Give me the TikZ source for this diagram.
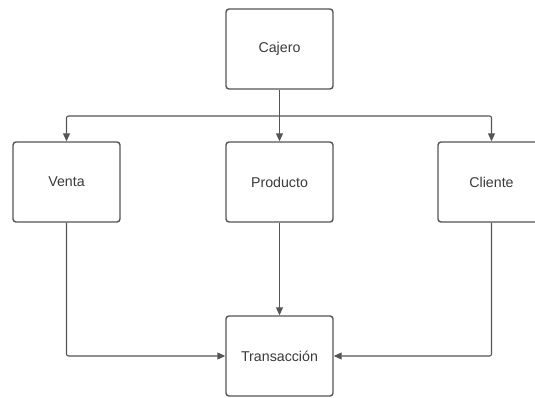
\documentclass[tikz,border=0pt]{standalone}
\usepackage{fontspec}
\setmainfont{Liberation Sans}
\usetikzlibrary{arrows.meta}
\definecolor{boxline}{HTML}{555555}
\definecolor{txt}{HTML}{3A3A3A}
\begin{document}
\begin{tikzpicture}[x=1pt,y=-1pt,
  entity/.style={draw=boxline,line width=1.4pt,rounded corners=3pt,minimum width=107pt,minimum height=80pt,inner sep=0pt,font=\fontsize{14.2}{17}\selectfont,text=txt,fill=white},
  link/.style={draw=boxline,line width=1.1pt,rounded corners=2pt,-{Triangle[length=8pt,width=7pt]}}]
\useasboundingbox (0,0) rectangle (535,397);
\clip (0,0) rectangle (535,397);
\node[entity] (cajero) at (279.5,49) {Cajero};
\node[entity] (venta) at (66.5,182) {Venta};
\node[entity] (producto) at (279.5,182) {Producto};
\node[entity] (cliente) at (491.5,182) {Cliente};
\node[entity] (trans) at (279.5,356) {Transacción};
\coordinate (j) at (279.5,116);
\draw[draw=boxline,line width=1.1pt] (cajero.south) -- (j);
\draw[link] (j) -| (venta.north);
\draw[link] (j) -| (cliente.north);
\draw[link] (j) -- (producto.north);
\draw[link] (producto.south) -- (trans.north);
\draw[link] (venta.south) |- (trans.west);
\draw[link] (cliente.south) |- (trans.east);
\end{tikzpicture}
\end{document}
